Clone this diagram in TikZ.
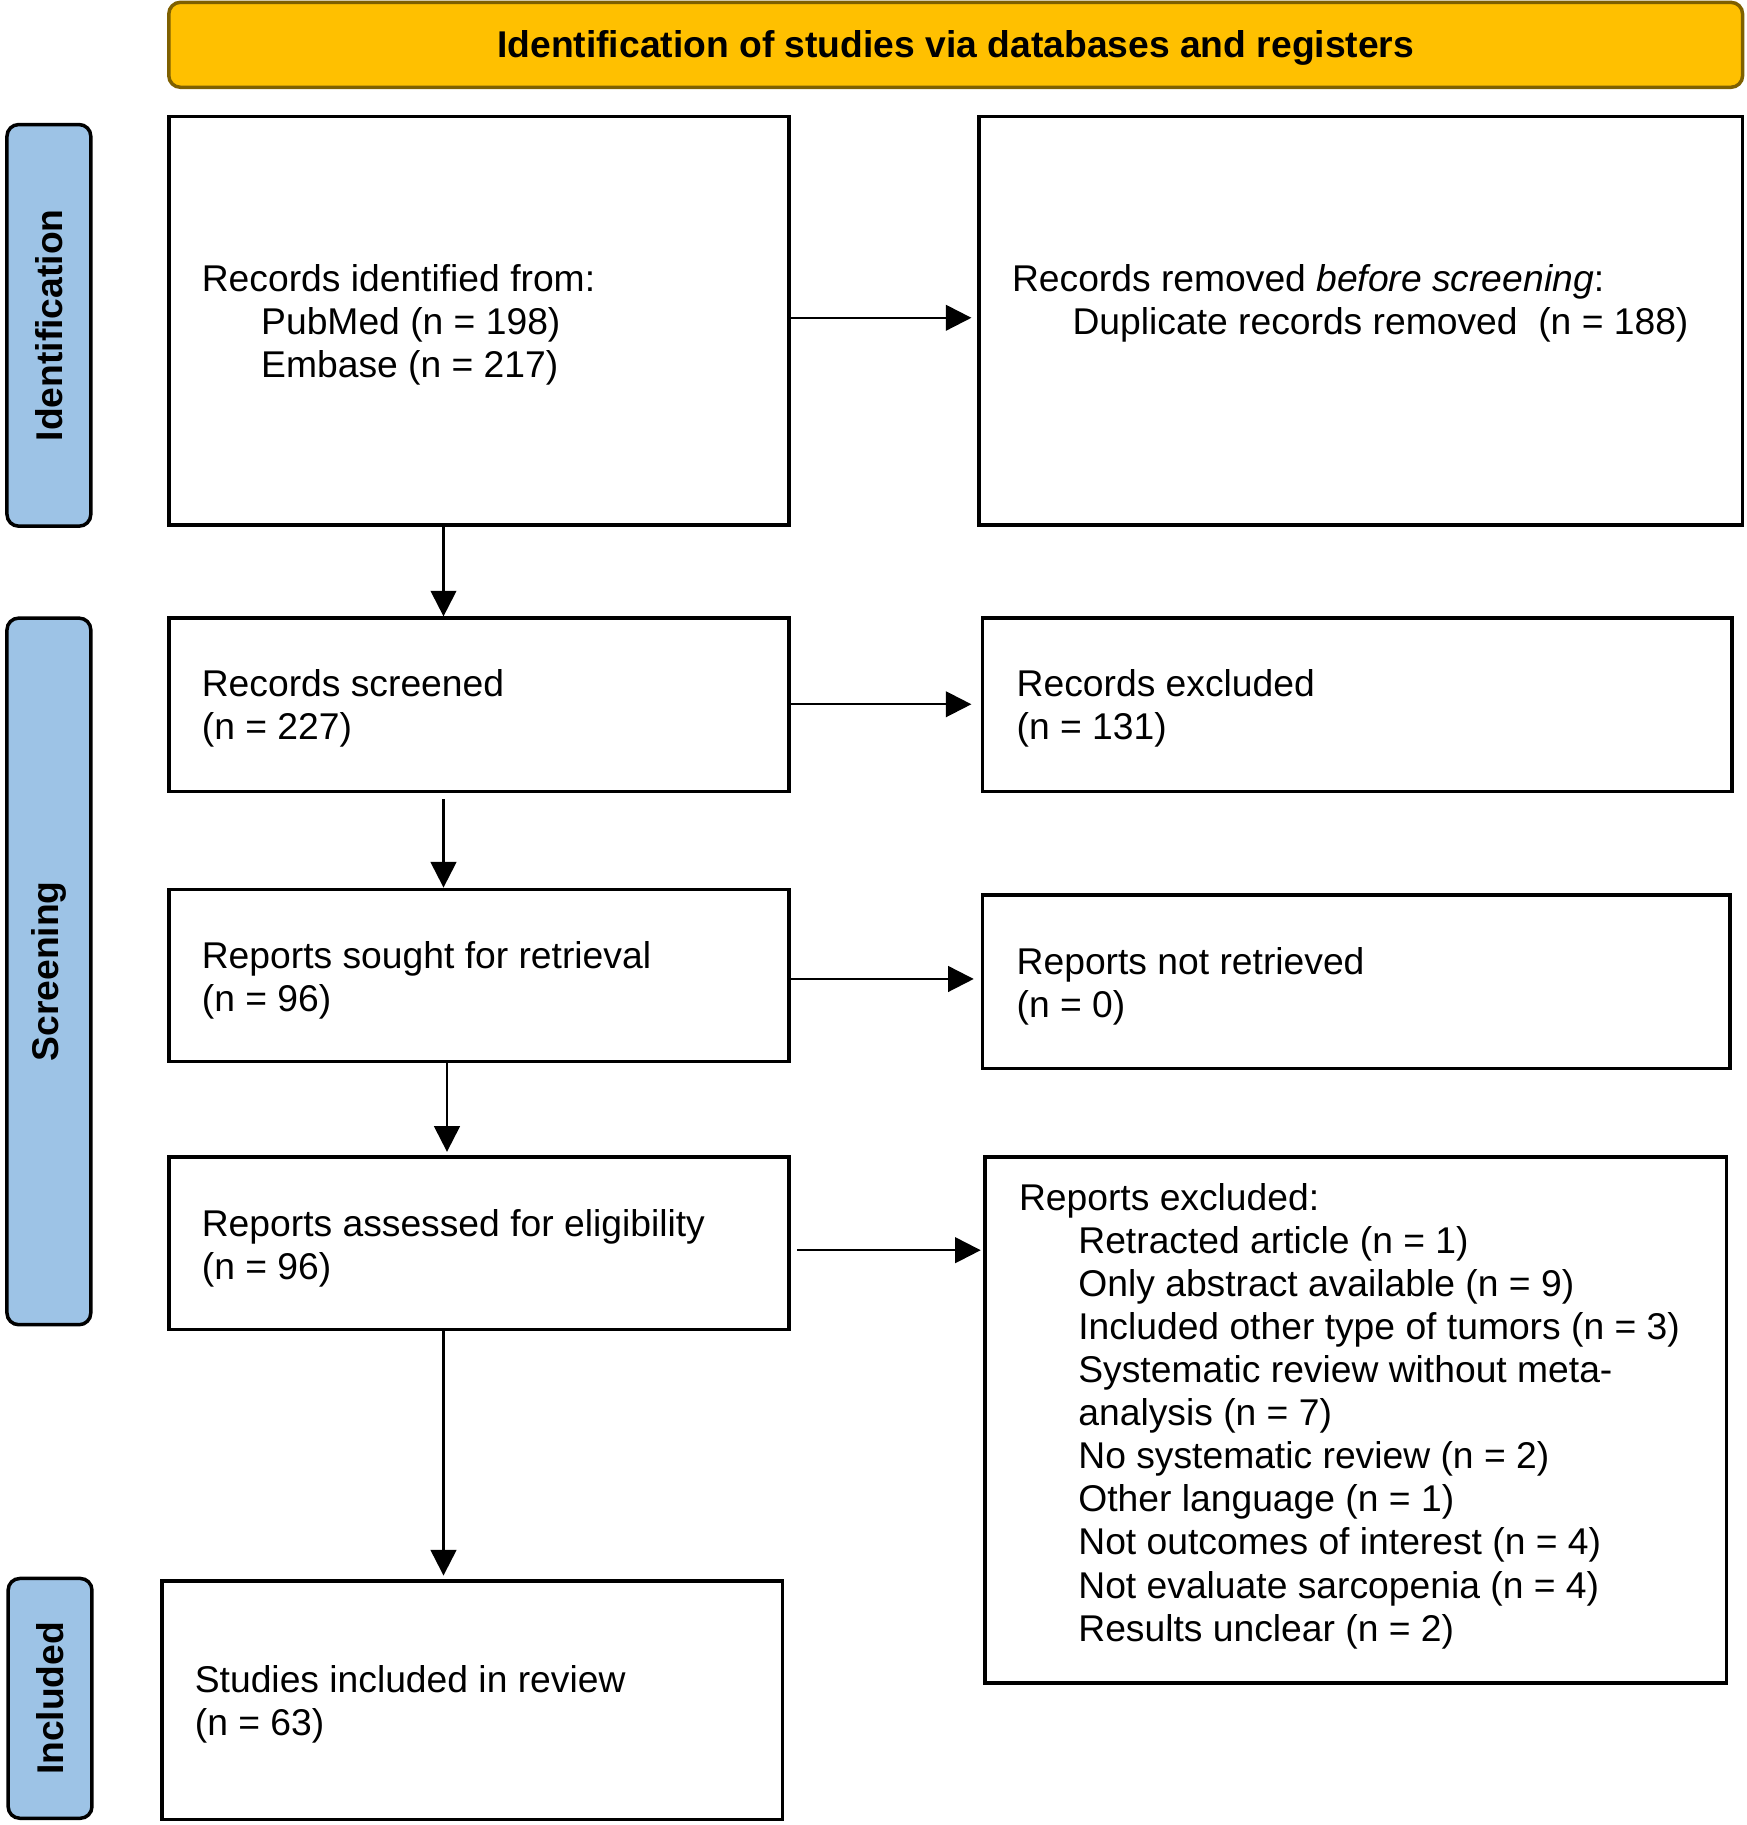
\documentclass[tikz,border=0pt]{standalone}
\usepackage{fontspec}
\setmainfont{Liberation Sans}
\usetikzlibrary{fit,arrows.meta}
\definecolor{headfill}{HTML}{FFC000}
\definecolor{headdraw}{HTML}{7F6000}
\definecolor{sidefill}{HTML}{9DC3E6}
\begin{document}
\begin{tikzpicture}[x=0.5pt,y=-0.5pt,
% common options for the boxes:
box/.style = {draw, line width=1.5pt, inner sep=0},
% common options for the texts in the boxes:
txt/.style = {align=left, anchor=west, inner sep=0, yshift=-1.5pt,
            font=\fontsize{16}{18.5}\selectfont},
% common options for the phase labels:
side/.style = {draw, fill=sidefill, rounded corners=5pt, line width=1.5pt, inner sep=0},
sidetxt/.style = {rotate=90, inner sep=0, font=\fontsize{16}{18.5}\selectfont\bfseries},
% common options for the arrows:
arr/.style = {-{Triangle[length=11pt,width=11pt]}, line width=1pt}]
\useasboundingbox (0,0) rectangle (1500,1567.8);
\node[draw=headdraw, fill=headfill, rounded corners=5pt, line width=1.5pt, inner sep=0,
      fit={(145,2) (1497,75)}] (head) {};
\node[inner sep=0, yshift=-1.5pt, font=\fontsize{16}{18.5}\selectfont\bfseries] (headtxt)
      at (head.center) {Identification of studies via databases and registers};
\node[side, fit={(6,107) (78,452)}] (sideid) {};
\node[sidetxt] (sideidtxt) at (sideid.center) {Identification};
\node[side, fit={(6,531) (78,1138)}] (sidescr) {};
\node[sidetxt] (sidescrtxt) at (sidescr.center) {Screening};
\node[side, fit={(7,1356) (79,1562)}] (sideinc) {};
\node[sidetxt] (sideinctxt) at (sideinc.center) {Included};
\node[box, fit={(145,100) (678,451)}] (ident) {};
\node[txt] (identtxt) at (173,276) {Records identified from:\\
  \hspace*{25.5pt}PubMed (n = 198)\\
  \hspace*{25.5pt}Embase (n = 217)};
\node[box, fit={(841,100) (1497,451)}] (removed) {};
\node[txt] (removedtxt) at (869,257.5) {Records removed \emph{before screening}:\\
  \hspace*{26pt}Duplicate records removed~~(n = 188)};
\node[box, fit={(145,531) (678,680)}] (screened) {};
\node[txt] (screenedtxt) at (173,605.5) {Records screened\\(n = 227)};
\node[box, fit={(844,531) (1488,680)}] (excluded) {};
\node[txt] (excludedtxt) at (873,605.5) {Records excluded\\(n = 131)};
\node[box, fit={(145,764) (678,912)}] (sought) {};
\node[txt] (soughttxt) at (173,839.5) {Reports sought for retrieval\\(n = 96)};
\node[box, fit={(844,769) (1486,918)}] (notretr) {};
\node[txt] (notretrtxt) at (873,844.5) {Reports not retrieved\\(n = 0)};
\node[box, fit={(145,994) (678,1142)}] (assessed) {};
\node[txt] (assessedtxt) at (173,1069.5) {Reports assessed for eligibility\\(n = 96)};
\node[box, fit={(846,994) (1483,1446)}] (repexcl) {};
\node[txt] (repexcltxt) at (875,1213.5) {Reports excluded:\\
  \hspace*{25.5pt}Retracted article (n = 1)\\
  \hspace*{25.5pt}Only abstract available (n = 9)\\
  \hspace*{25.5pt}Included other type of tumors (n = 3)\\
  \hspace*{25.5pt}Systematic review without meta-\\
  \hspace*{25.5pt}analysis (n = 7)\\
  \hspace*{25.5pt}No systematic review (n = 2)\\
  \hspace*{25.5pt}Other language (n = 1)\\
  \hspace*{25.5pt}Not outcomes of interest (n = 4)\\
  \hspace*{25.5pt}Not evaluate sarcopenia (n = 4)\\
  \hspace*{25.5pt}Results unclear (n = 2)};
\node[box, fit={(139,1358) (672,1563)}] (included) {};
\node[txt] (includedtxt) at (167,1461.5) {Studies included in review\\(n = 63)};
\coordinate (a1) at (678,273);
\coordinate (a3) at (678,605);
\coordinate (a5) at (678,841);
\coordinate (a7) at (685,1074);
\draw[arr, shorten >=2.5pt] (a1) -- (a1 -| removed.west);
\draw[arr, shorten >=4pt] (a3) -- (a3 -| excluded.west);
\draw[arr, shorten >=3pt] (a5) -- (a5 -| notretr.west);
\draw[arr, shorten >=1pt] (a7) -- (a7 -| repexcl.west);
\draw[arr] ([xshift=-15.25pt]ident.south) -- ([xshift=-15.25pt]screened.north);
\draw[arr] ([xshift=-15.25pt,yshift=-2.5pt]screened.south) -- ([xshift=-15.25pt]sought.north);
\draw[arr] ([xshift=-13.75pt]sought.south) -- ([xshift=-13.75pt,yshift=1.5pt]assessed.north);
\draw[arr] ([xshift=-15.25pt]assessed.south) -- ([xshift=-12.25pt,yshift=1.5pt]included.north);
\end{tikzpicture}
\end{document}
